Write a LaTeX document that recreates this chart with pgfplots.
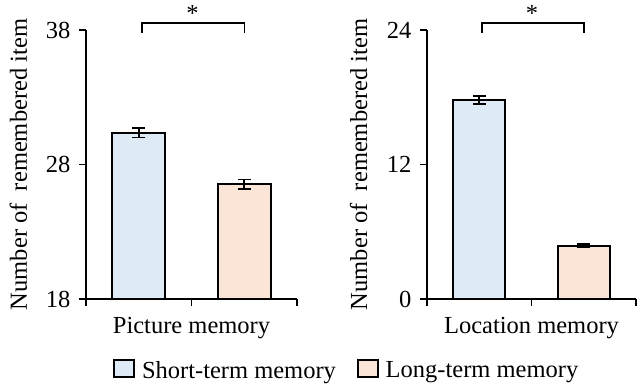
\documentclass[border=0pt]{standalone}
\usepackage{fontspec}
\setmainfont{Liberation Serif}
\usepackage{pgfplots}
\pgfplotsset{compat=1.18}
\definecolor{stblue}{HTML}{DEEAF6}
\definecolor{ltorange}{HTML}{FBE5D6}
\newcommand{\bigfont}{\fontsize{24.5}{29}\selectfont}
\pgfplotsset{
  mybar/.style={ybar, bar shift=0pt, bar width=0.5, draw=black, line width=1.8pt,
    legend image code/.code={\draw[##1, draw=black, line width=1.8pt] (0pt,-6.5pt) rectangle (20pt,10.5pt); \path (25pt,0pt);},
    error bars/y dir=both, error bars/y explicit,
    error bars/error bar style={line width=1.6pt, black},
    error bars/error mark options={rotate=90, mark size=6.5pt, line width=1.6pt, black}},
  common/.style={
    scale only axis, height=269pt, anchor=south west,
    axis lines=left, axis line style={-, line width=1.8pt},
    xmin=0, xmax=2, xtick={0,1,2}, xticklabels={},
    tick align=outside, major tick length=7pt,
    tick style={line width=1.8pt, black},
    clip mode=individual,
    font=\bigfont,
    /pgf/number format/assume math mode=true,
    ticklabel style={font=\bigfont},
    yticklabel style={xshift=-5pt},
    every axis x label/.style={at={(axis description cs:0.5,0)}, anchor=base, yshift=-34pt, font=\bigfont},
  }
}
\begin{document}
\begin{tikzpicture}
\useasboundingbox (0,0) rectangle (640pt,386pt);
\begin{axis}[common, at={(86pt,87pt)}, width=211pt,
  ymin=18, ymax=38, ytick={18,28,38},
  xlabel={Picture memory},
  every axis y label/.style={at={([xshift=-59pt]axis description cs:0,0.5)}, rotate=90, anchor=base, font=\bigfont},
  ylabel={Number of~ remembered item},
  legend columns=2,
  legend style={at={(axis description cs:0.128,-0.2658)}, anchor=west, draw=none, inner sep=0pt, font=\bigfont,
    /tikz/every even column/.append style={column sep=19pt}},
]
\addplot[mybar, fill=stblue] coordinates {(0.5,30.36) +- (0,0.35)};
\addlegendentry{Short-term memory}
\addplot[mybar, fill=ltorange] coordinates {(1.5,26.53) +- (0,0.36)};
\addlegendentry{Long-term memory}
\draw[line width=1.5pt] (axis cs:0.53,37.78) -- (axis cs:0.53,38.52) -- (axis cs:1.5,38.52) -- (axis cs:1.5,37.78);
\node[anchor=base, font=\bigfont, inner sep=0pt] at (axis cs:1.01,38.66) {*};
\end{axis}
\begin{axis}[common, at={(427pt,87pt)}, width=209pt,
  ymin=0, ymax=24, ytick={0,12,24},
  xlabel={Location memory},
  every axis y label/.style={at={([xshift=-60pt]axis description cs:0,0.5)}, rotate=90, anchor=base, font=\bigfont},
  ylabel={Number of~ remembered item},
]
\addplot[mybar, fill=stblue] coordinates {(0.5,17.75) +- (0,0.34)};
\addplot[mybar, fill=ltorange] coordinates {(1.5,4.75) +- (0,0.15)};
\draw[line width=1.5pt] (axis cs:0.526,23.73) -- (axis cs:0.526,24.62) -- (axis cs:1.502,24.62) -- (axis cs:1.502,23.73);
\node[anchor=base, font=\bigfont, inner sep=0pt] at (axis cs:1.005,24.80) {*};
\end{axis}
\end{tikzpicture}
\end{document}
